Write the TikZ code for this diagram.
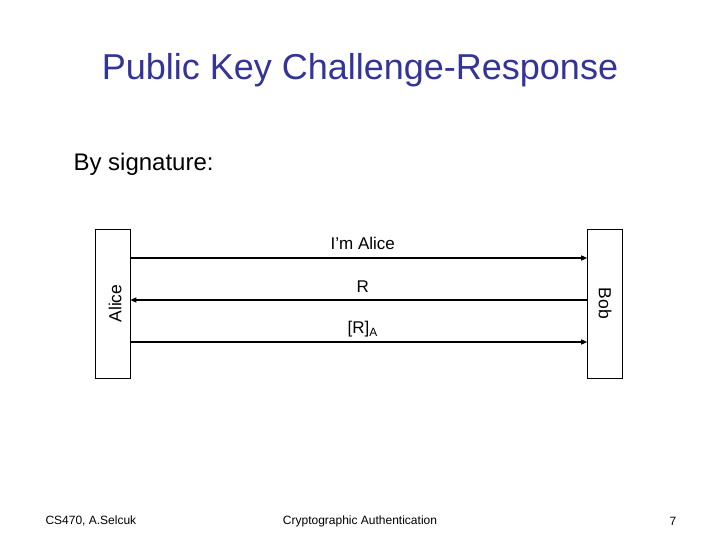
\documentclass[tikz,border=0pt]{standalone}
\usepackage{fontspec}
\setmainfont{Liberation Sans}
\usepackage{tikz}
\usetikzlibrary{arrows.meta, calc}
\definecolor{titleblue}{HTML}{333399}
\tikzset{
  party/.style={draw, line width=0.6pt, minimum width=35pt, minimum height=149pt, inner sep=0pt},
  msg/.style={line width=1.2pt, -{Triangle[length=6pt, width=5pt]}},
  lbl/.style={font=\fontsize{17}{20}\selectfont, xshift=4pt}
}
\begin{document}
\begin{tikzpicture}[x=1pt, y=-1pt]
  \useasboundingbox (0,0) rectangle (720,540);
  \node[titleblue, font=\fontsize{36}{42}\selectfont] (title) at (360,70) {Public Key Challenge-Response};
  \node[font=\fontsize{24}{28}\selectfont, anchor=west] (intro) at (70,164) {By signature:};
  % the two parties
  \node[party] (alice) at (112.5,303.5) {};
  \node[party] (bob) at (605,303.5) {};
  \node[rotate=90, font=\fontsize{17.5}{20}\selectfont] (alicelbl) at (115,303.5) {Alice};
  \node[rotate=-90, font=\fontsize{17.5}{20}\selectfont] (boblbl) at (bob) {Bob};
  % message ends
  \foreach \i/\y in {1/258, 2/300, 3/342}{
    \coordinate (a\i) at (alice.east |- 0,\y);
    \coordinate (b\i) at (bob.west |- 0,\y);
  }
  \draw[msg] (a1) -- (b1) node[lbl, midway, above=4pt] (m1) {I’m Alice};
  \draw[msg] (b2) -- (a2) node[lbl, midway, above=4pt] (m2) {R};
  \draw[msg] (a3) -- (b3) node[lbl, midway, above=1pt] (m3) {[R]\textsubscript{A}};
  % footer
  \node[font=\fontsize{12}{14}\selectfont, anchor=west] (foot1) at (42,521) {CS470, A.Selcuk};
  \node[font=\fontsize{12}{14}\selectfont] (foot2) at (360,521) {Cryptographic Authentication};
  \node[font=\fontsize{12}{14}\selectfont] (foot3) at (673,521) {7};
\end{tikzpicture}
\end{document}
